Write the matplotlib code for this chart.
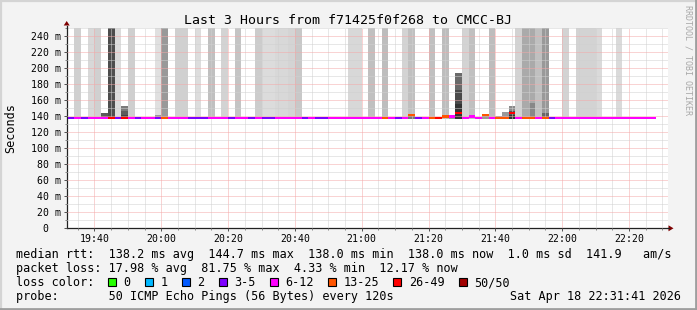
import matplotlib
matplotlib.use("Agg")
import matplotlib.pyplot as plt
from matplotlib.patches import Rectangle, Polygon
from matplotlib.ticker import FixedLocator, MultipleLocator, FuncFormatter

# ---------------- data ----------------
title = "Last 3 Hours from f71425f0f268 to CMCC-BJ"
t_start = 19 * 60 + 31 + 41 / 60.0      # 19:31:41 (minutes since midnight)
t_end = 22 * 60 + 31 + 41 / 60.0        # 22:31:41
first_step = 19 * 60 + 32               # first 2-minute step start
step_min = 2

loss_labels = ["0", "1", "2", "3-5", "6-12", "13-25", "26-49", "50/50"]
loss_colors = ["#26ff00", "#00b8ff", "#0059ff", "#7e00ff", "#ff00ff",
               "#ff5500", "#ff0000", "#a10000"]

# loss bucket (index into loss_labels) per 2-minute step
loss_bin = [3, 4, 3, 4, 4, 4, 6, 3, 6, 4,
            3, 4, 4, 3, 5, 4, 4, 4, 3, 3,
            3, 4, 4, 4, 3, 4, 4, 3, 4, 3,
            3, 4, 4, 4, 4, 3, 4, 3, 3, 4,
            4, 4, 4, 4, 4, 4, 4, 5, 4, 3,
            4, 5, 3, 4, 5, 6, 5, 4, 6, 4,
            4, 4, 5, 4, 5, 5, 6, 4, 5, 5,
            4, 5, 3, 4, 4, 4, 4, 4, 4, 4,
            4, 4, 4, 4, 4, 4, 4, 4]

# median rtt (ms) per step
median_ms = [138.2, 138.2, 138.2, 138.2, 138.2, 138.2, 138.2, 138.2, 138.2, 138.2,
             138.2, 138.2, 138.2, 138.2, 138.2, 138.2, 138.2, 138.2, 138.2, 138.2,
             138.2, 138.2, 138.2, 138.2, 138.2, 138.2, 138.2, 138.2, 138.2, 138.2,
             138.2, 138.2, 138.2, 138.2, 138.2, 138.2, 138.2, 138.2, 138.2, 138.2,
             138.2, 138.2, 138.2, 138.2, 138.2, 138.2, 138.2, 138.2, 138.2, 138.2,
             138.2, 141.0, 138.2, 138.2, 138.2, 138.2, 139.5, 139.5, 143.5, 138.2,
             139.5, 138.2, 141.0, 138.2, 138.2, 138.2, 143.5, 138.2, 138.2, 138.2,
             138.2, 138.2, 138.2, 138.2, 138.2, 138.2, 138.2, 138.2, 138.2, 138.2,
             138.2, 138.2, 138.2, 138.2, 138.2, 138.2, 138.2, 138.2]

# outer smoke: top (ms, 260 = off scale) and shade per step (0 = none)
smoke_top = [0, 260, 0, 260, 260, 144, 260, 260, 153, 260,
             0, 0, 0, 260, 260, 0, 260, 260, 0, 260,
             0, 260, 0, 260, 0, 260, 0, 0, 260, 260,
             260, 260, 260, 260, 260, 0, 0, 0, 0, 0,
             0, 0, 260, 260, 0, 260, 0, 260, 0, 0,
             260, 260, 0, 0, 260, 0, 260, 142, 194, 260,
             260, 0, 141, 260, 140, 145, 152.5, 260, 260, 260,
             260, 260, 0, 0, 260, 0, 260, 260, 260, 260,
             0, 0, 260, 0, 0, 0, 0, 0]
smoke_gray = ["", "#d0d0d0", "", "#d8d8d8", "#d0d0d0", "#5a5a5a", "#4d4d4d", "#dcdcdc", "#7a7a7a", "#cfcfcf",
              "", "", "", "#e0e0e0", "#999999", "", "#d0d0d0", "#d0d0d0", "", "#dddddd",
              "", "#c0c0c0", "", "#d3d3d3", "", "#c4c4c4", "", "", "#cccccc", "#dcdcdc",
              "#dcdcdc", "#d8d8d8", "#d8d8d8", "#d4d4d4", "#c8c8c8", "", "", "", "", "",
              "", "", "#d8d8d8", "#d8d8d8", "", "#c0c0c0", "", "#bdbdbd", "", "",
              "#d3d3d3", "#c0c0c0", "", "", "#c0c0c0", "", "#bdbdbd", "#999999", "#6a6a6a", "#d3d3d3",
              "#c0c0c0", "", "#999999", "#bdbdbd", "#999999", "#999999", "#8a8a8a", "#d3d3d3", "#aaaaaa", "#aaaaaa",
              "#c0c0c0", "#999999", "", "", "#d3d3d3", "", "#d3d3d3", "#d3d3d3", "#d3d3d3", "#dadada",
              "", "", "#dadada", "", "", "", "", ""]

# denser inner smoke layers
inner_bins = [8, 13, 51, 58, 66, 69, 71]
inner_top = [147, 142, 142, 172, 146, 157, 144]
inner_gray = ["#5c5c5c", "#999999", "#777777", "#4a4a4a", "#555555", "#888888", "#666666"]
core_bins = [8, 58, 66]
core_top = [142, 155, 142]
core_gray = ["#444444", "#333333", "#333333"]
smoke_floor = 137.0

stats_rtt = "median rtt:  138.2 ms avg  144.7 ms max  138.0 ms min  138.0 ms now  1.0 ms sd  141.9   am/s"
stats_loss = "packet loss: 17.98 % avg  81.75 % max  4.33 % min  12.17 % now"
probe_text = "probe:       50 ICMP Echo Pings (56 Bytes) every 120s"
stamp_text = "Sat Apr 18 22:31:41 2026"

# ---------------- figure ----------------
W, H = 697, 310
MONO = "DejaVu Sans Mono"
fig = plt.figure(figsize=(W / 100, H / 100), dpi=100)
fig.patch.set_facecolor("#f3f3f3")

L, R, T, B = 66.7, 668.0, 28.0, 228.3
ax = fig.add_axes([L / W, 1 - B / H, (R - L) / W, (B - T) / H])
ax.set_facecolor("white")
ax.set_xlim(t_start, t_end)
ax.set_ylim(0, 250)

n = len(loss_bin)
xs = [first_step + step_min * i for i in range(n)]

# outer smoke
for x, top, g in zip(xs, smoke_top, smoke_gray):
    if top:
        ax.bar(x, top - smoke_floor, bottom=smoke_floor, width=step_min, align="edge",
               color=g, linewidth=0, zorder=1)
for i, top, g in zip(inner_bins, inner_top, inner_gray):
    ax.bar(xs[i], top - smoke_floor, bottom=smoke_floor, width=step_min, align="edge",
           color=g, linewidth=0, zorder=1.1)
for i, top, g in zip(core_bins, core_top, core_gray):
    ax.bar(xs[i], top - smoke_floor, bottom=smoke_floor, width=step_min, align="edge",
           color=g, linewidth=0, zorder=1.2)

# median line coloured by loss
for x, m, lb in zip(xs, median_ms, loss_bin):
    ax.bar(x, 2.6, bottom=m - 1.3, width=step_min, align="edge",
           color=loss_colors[lb], linewidth=0, zorder=4)

# ticks & grid
ax.xaxis.set_major_locator(FixedLocator([19 * 60 + 40 + 20 * k for k in range(9)]))
ax.xaxis.set_minor_locator(MultipleLocator(5))
ax.xaxis.set_major_formatter(FuncFormatter(lambda v, p: "%02d:%02d" % (int(v) // 60, int(v) % 60)))
ax.yaxis.set_major_locator(MultipleLocator(20))
ax.yaxis.set_minor_locator(MultipleLocator(10))
ax.yaxis.set_major_formatter(FuncFormatter(lambda v, p: "0  " if v == 0 else "%d m" % v))

ax.set_axisbelow(False)
ax.grid(which="minor", color="#d0d0d0", linestyle=(0, (1, 1)), linewidth=0.72)
ax.grid(which="major", color="#f4a8a8", linestyle=(0, (1, 1)), linewidth=0.72)

ax.tick_params(which="major", length=2.2, width=0.72, color="#555555", pad=2.0,
               labelsize=7.1, labelcolor="black")
ax.tick_params(which="minor", length=1.5, width=0.72, color="#888888")
for lab in ax.get_xticklabels() + ax.get_yticklabels():
    lab.set_fontfamily(MONO)

for s in ["top", "right"]:
    ax.spines[s].set_visible(False)
for s in ["left", "bottom"]:
    ax.spines[s].set_color("#222222")
    ax.spines[s].set_linewidth(0.9)

# ---------------- overlay in pixel coordinates ----------------
ov = fig.add_axes([0, 0, 1, 1], zorder=5)
ov.set_xlim(0, W)
ov.set_ylim(H, 0)
ov.axis("off")
ov.patch.set_alpha(0)

# frame
ov.plot([0.8, W - 0.5], [0.8, 0.8], color="#d4d4d4", lw=1.6, clip_on=False)
ov.plot([0.8, 0.8], [0.8, H - 0.5], color="#d4d4d4", lw=1.6, clip_on=False)
ov.plot([0, W], [H - 1.2, H - 1.2], color="#9e9e9e", lw=2.0, clip_on=False)
ov.plot([W - 1.2, W - 1.2], [0, H], color="#9e9e9e", lw=2.0, clip_on=False)

# axis extensions with arrows
ov.plot([L, L], [T, 25.5], color="#222222", lw=0.9)
ov.add_patch(Polygon([[L - 3, 25.5], [L + 3, 25.5], [L, 21]], closed=True, color="#7f0000", lw=0))
ov.plot([R, 669], [B, B], color="#222222", lw=0.9)
ov.add_patch(Polygon([[668.5, B - 3], [668.5, B + 3], [673.5, B]], closed=True, color="#7f0000", lw=0))

ov.text(347.5, 24.3, title, ha="center", va="baseline", fontsize=9.5, family=MONO)
ov.text(11, 128, "Seconds", rotation=90, ha="center", va="center", fontsize=8.5, family=MONO)
ov.text(688, 5, "RRDTOOL / TOBI OETIKER", rotation=270, ha="center", va="top",
        fontsize=6.0, family=MONO, color="#a8a8a8")

ov.text(16, 258.3, stats_rtt, ha="left", va="baseline", fontsize=8.5, family=MONO)
ov.text(16, 272.3, stats_loss, ha="left", va="baseline", fontsize=8.5, family=MONO)
ov.text(16, 286.3, "loss color:", ha="left", va="baseline", fontsize=8.5, family=MONO)
ov.text(16, 300.0, probe_text, ha="left", va="baseline", fontsize=8.5, family=MONO)
ov.text(681, 300.0, stamp_text, ha="right", va="baseline", fontsize=8.5, family=MONO)

char_w = 7.1
bx = 108.0
for lab, col in zip(loss_labels, loss_colors):
    ov.add_patch(Rectangle((bx, 278.3), 8, 8, facecolor=col, edgecolor="black", lw=0.8))
    ov.text(bx + 15.5, 286.3, lab, ha="left", va="baseline", fontsize=8.5, family=MONO)
    bx += (len(lab) + 4.2) * char_w

fig.savefig("out.png", dpi=100, facecolor=fig.get_facecolor())
